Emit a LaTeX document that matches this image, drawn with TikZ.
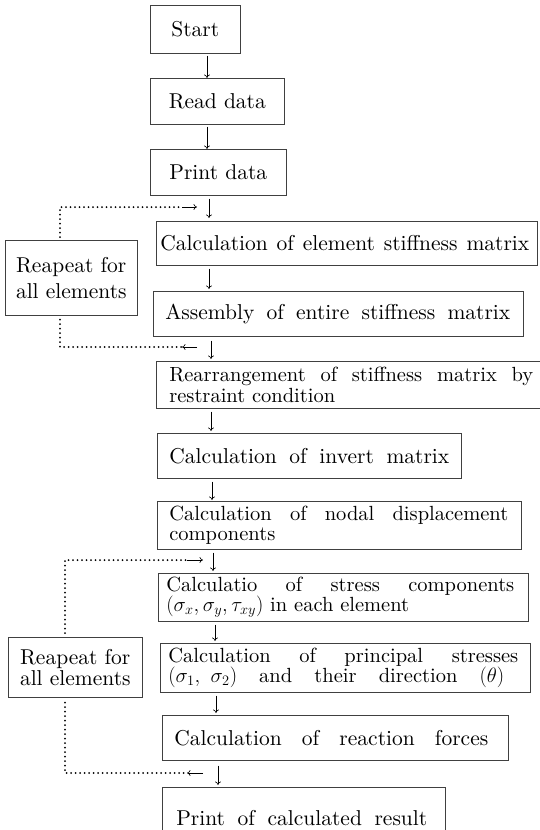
\documentclass[tikz,border=0pt]{standalone}
\usepackage{fontspec}
\setmainfont{lmroman10-regular.otf}[BoldFont=lmroman10-bold.otf, ItalicFont=lmroman10-italic.otf]
\usetikzlibrary{arrows.meta}
\newcommand\sprd[2]{\hbox to #1{#2}}
\newcommand\wsp{\ \hfill}
\tikzset{
 box/.style={draw=black!75, line width=0.6pt, anchor=north west, inner ysep=0pt, font=\fontsize{21.5}{26}\selectfont},
 twoline/.style={font=\fontsize{20.5}{20.5}\selectfont, align=left},
 arr/.style={-{To[length=3.5pt,width=6pt]}, line width=0.6pt},
 dots/.style={line width=2pt, line cap=round, dash pattern=on 0pt off 4.5pt},
}
\begin{document}
\begin{tikzpicture}[x=1pt,y=-1pt]
\clip (0,0) rectangle (540,830);
% boxes
\node[box, align=center, inner xsep=5pt, text width=80pt, minimum height=48pt] (start) at (150,5) {Start};
\node[box, align=center, inner xsep=5pt, text width=124pt, minimum height=46pt] (read) at (150,78) {Read data};
\node[box, align=center, inner xsep=5pt, text width=126pt, minimum height=46pt] (print) at (150,149) {Print data};
\node[box, align=left, inner xsep=4pt, text width=373pt, minimum height=44pt] (stiff) at (156,221) {\sprd{369pt}{Calculation\wsp of\wsp element\wsp stiffness\wsp matrix}};
\node[box, align=left, inner xsep=12pt, text width=346pt, minimum height=45pt] (assem) at (153,291) {\sprd{345pt}{Assembly\wsp of\wsp entire\wsp stiffness\wsp matrix}};
\node[box, twoline, inner xsep=13pt, text width=364pt, minimum height=47pt] (rearr) at (156,361) {\sprd{364pt}{Rearrangement\wsp of\wsp stiffness\wsp matrix\wsp by}\\restraint condition};
\node[box, align=left, inner xsep=12pt, text width=280pt, minimum height=45pt] (invert) at (157,433) {\sprd{280pt}{Calculation\wsp of\wsp invert\wsp matrix}};
\node[box, twoline, inner xsep=12pt, text width=340pt, minimum height=48pt] (nodal) at (157,501) {\sprd{339pt}{Calculation\wsp of\wsp nodal\wsp displacement}\\components};
\node[box, twoline, inner xsep=8pt, text width=354pt, minimum height=48pt] (stress) at (158,573) {\sprd{348pt}{Calculatio\wsp of\wsp stress\wsp components}\\$(\sigma_x,\sigma_y,\tau_{xy})$ in each element};
\node[box, twoline, inner xsep=8pt, text width=354pt, minimum height=49pt] (princ) at (160,643) {\sprd{350pt}{Calculation\wsp of\wsp principal\wsp stresses}\\\sprd{336pt}{$(\sigma_1,\ \sigma_2)$\wsp and\wsp their\wsp direction\wsp $(\theta)$}};
\node[box, align=left, inner xsep=12pt, text width=322pt, minimum height=45pt] (react) at (162,715) {\sprd{314pt}{Calculation\wsp of\wsp reaction\wsp forces}};
\node[box, align=left, inner xsep=14pt, text width=255pt, minimum height=62pt] (result) at (162,787) {\sprd{251pt}{Print\wsp of\wsp calculated\wsp result}};
\node[box, align=center, inner xsep=4pt, text width=124pt, minimum height=75pt] (rep1) at (5,240) {Reapeat for\\all elements};
\node[box, align=center, inner xsep=4pt, text width=126pt, minimum height=60pt, font=\fontsize{21.5}{21}\selectfont] (rep2) at (8,637) {Reapeat for\\all elements};
% arrow columns
\coordinate (c1) at (207,0);
\coordinate (c2) at (207,0);
\coordinate (c3) at (209,0);
\coordinate (c4) at (209,0);
\coordinate (c5) at (211,0);
\coordinate (c6) at (211,0);
\coordinate (c7) at (212,0);
\coordinate (c8) at (213,0);
\coordinate (c9) at (215,0);
\coordinate (c10) at (216,0);
\coordinate (c11) at (218,0);
\draw[arr, shorten <=2pt] (start.south -| c1) -- (read.north -| c1);
\draw[arr, shorten <=2pt] (read.south -| c2) -- (print.north -| c2);
\draw[arr, shorten <=3pt, shorten >=3pt] (print.south -| c3) -- (stiff.north -| c3);
\draw[arr, shorten <=3pt, shorten >=2pt] (stiff.south -| c4) -- (assem.north -| c4);
\draw[arr, shorten <=4pt, shorten >=2pt] (assem.south -| c5) -- (rearr.north -| c5);
\draw[arr, shorten <=3pt, shorten >=2pt] (rearr.south -| c6) -- (invert.north -| c6);
\draw[arr, shorten <=3pt, shorten >=1pt] (invert.south -| c7) -- (nodal.north -| c7);
\draw[arr, shorten <=3pt, shorten >=2pt] (nodal.south -| c8) -- (stress.north -| c8);
\draw[arr, shorten <=3pt, shorten >=2pt] (stress.south -| c9) -- (princ.north -| c9);
\draw[arr, shorten <=3pt, shorten >=2pt] (princ.south -| c10) -- (react.north -| c10);
\draw[arr, shorten <=5pt, shorten >=2pt] (react.south -| c11) -- (result.north -| c11);
% loop 1
\coordinate (L1a) at (60,207);
\coordinate (L1s) at (182,207);
\coordinate (L1t) at (197,207);
\coordinate (L1b) at (60,347);
\coordinate (L1e) at (182,347);
\coordinate (L1f) at (197,347);
\draw[dots, shorten <=3pt] (rep1.north -| L1a) -- (L1a) -- (L1s);
\draw[arr] (L1s) -- (L1t);
\draw[dots, shorten <=4pt] (rep1.south -| L1b) -- (L1b) -- (L1e);
\draw[arr] (L1f) -- (L1e);
% loop 2
\coordinate (L2a) at (65,560);
\coordinate (L2s) at (187,560);
\coordinate (L2t) at (203,560);
\coordinate (L2b) at (65,773);
\coordinate (L2e) at (187,773);
\coordinate (L2f) at (203,773);
\draw[dots, shorten <=4pt] (rep2.north -| L2a) -- (L2a) -- (L2s);
\draw[arr] (L2s) -- (L2t);
\draw[dots, shorten <=5pt] (rep2.south -| L2b) -- (L2b) -- (L2e);
\draw[arr] (L2f) -- (L2e);
\end{tikzpicture}
\end{document}
